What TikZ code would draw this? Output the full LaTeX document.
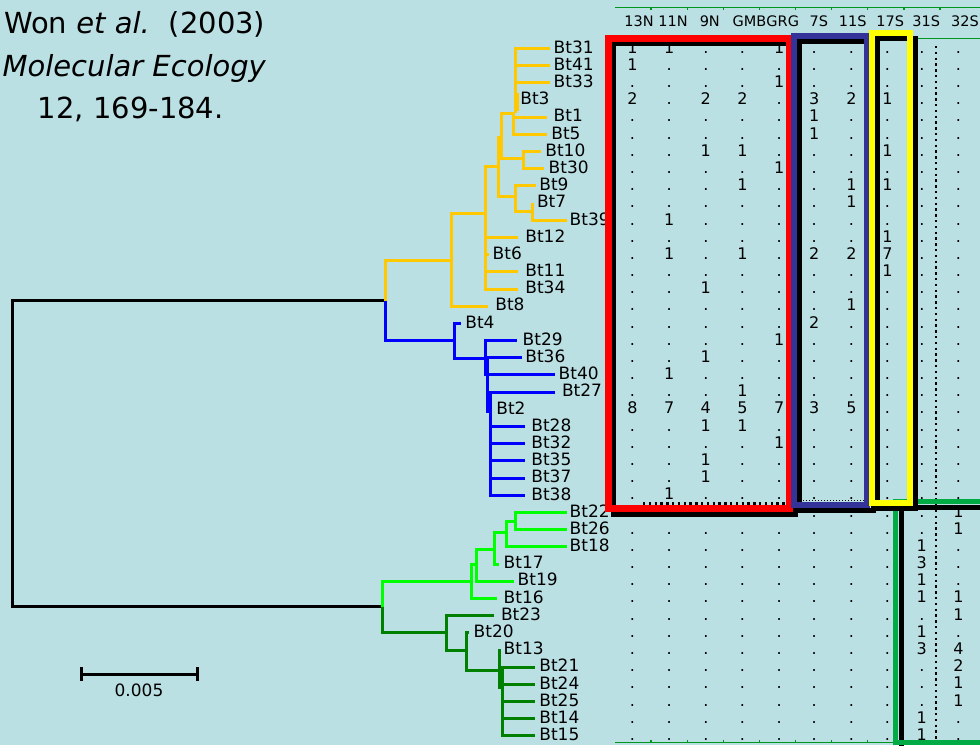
\documentclass[tikz,border=0pt]{standalone}
\usepackage{fontspec}
\setmainfont{DejaVu Sans}
\definecolor{bg}{RGB}{187,224,228}
\definecolor{ycl}{RGB}{255,200,0}
\definecolor{bcl}{RGB}{0,0,255}
\definecolor{lgcl}{RGB}{0,255,0}
\definecolor{dgcl}{RGB}{0,128,0}
\definecolor{frred}{RGB}{255,0,0}
\definecolor{frblue}{RGB}{51,51,153}
\definecolor{fryel}{RGB}{255,255,0}
\definecolor{frgreen}{RGB}{0,170,68}
\definecolor{thgreen}{RGB}{0,150,30}
\begin{document}
\begin{tikzpicture}[x=1pt,y=-1pt,
  br/.style={line width=3pt, line join=miter},
  lab/.style={anchor=base west, inner sep=0pt, font=\fontsize{17}{17}\selectfont},
  cell/.style={anchor=base, inner sep=0pt, font=\fontsize{16}{16}\selectfont},
  hdr/.style={anchor=base, inner sep=0pt, font=\fontsize{14.5}{14.5}\selectfont},
  cit/.style={inner sep=0pt, font=\fontsize{29}{29}\selectfont},
  dotline/.style={line width=2.4pt, dash pattern=on 2.4pt off 3.4pt},
  blackfr/.style={line width=5pt, black},
  thin/.style={line width=1.2pt, thgreen}
]
\fill[bg] (0,0) rectangle (980,745);
\useasboundingbox (0,0) rectangle (980,745);

% ---------- root ----------
\draw[br, black] (385.7,300.7) -- (12.7,300.7) -- (12.7,606.7) -- (382.7,606.7);

% ---------- yellow clade ----------
\draw[br, ycl] (385,300.7) -- (385,260) -- (451.7,260);
\draw[br, ycl] (485,213.3) -- (451.7,213.3) -- (451.7,306.2) -- (488.3,306.2);
\draw[br, ycl] (498,166.7) -- (485,166.7) -- (485,289) -- (518.3,289);
\draw[br, ycl] (485,237.4) -- (518.3,237.4);
\draw[br, ycl] (485,254.6) -- (488.5,254.6);
\draw[br, ycl] (485,271.8) -- (518.3,271.8);
\draw[br, ycl] (501.7,137) -- (498,137) -- (498,196.7) -- (515,196.7);
\draw[br, ycl] (523.3,158.3) -- (501.7,158.3) -- (501.7,113) -- (515,113);
\draw[br, ycl] (541,151.4) -- (523.3,151.4) -- (523.3,168.6) -- (544,168.6);
\draw[br, ycl] (535.7,185.8) -- (515,185.8) -- (515,211.7) -- (532.3,211.7);
\draw[br, ycl] (532.3,203) -- (532.3,220.2) -- (566.7,220.2);
\draw[br, ycl] (550,48.3) -- (515,48.3) -- (515,113);
\draw[br, ycl] (515,65.5) -- (550,65.5);
\draw[br, ycl] (515,82.7) -- (550,82.7);
\draw[br, ycl] (517.5,93) -- (517.5,111);
\draw[br, ycl] (513,113) -- (513,134.3) -- (547,134.3);
\draw[br, ycl] (513,117.1) -- (547,117.1);

% ---------- blue clade ----------
\draw[br, bcl] (385,300.7) -- (385,340.7) -- (454,340.7);
\draw[br, bcl] (460.7,323.3) -- (454,323.3) -- (454,358.3) -- (487.3,358.3);
\draw[br, bcl] (516.7,340.5) -- (485,340.5) -- (485,374.9) -- (555,374.9);
\draw[br, bcl] (521.7,357.7) -- (487.3,357.7) -- (487.3,411.7) -- (490,411.7);
\draw[br, bcl] (555,392.1) -- (490,392.1) -- (490,495.2) -- (525,495.2);
\foreach \i in {22,...,25} \draw[br, bcl] (490,{48.3+17.19*\i}) -- (525,{48.3+17.19*\i});

% ---------- light green clade ----------
\draw[br, lgcl] (382.7,606.7) -- (382.7,581) -- (471.7,581);
\draw[br, lgcl] (476.7,564) -- (471.7,564) -- (471.7,598.4) -- (496.7,598.4);
\draw[br, lgcl] (494,549) -- (476.7,549) -- (476.7,581.2) -- (514,581.2);
\draw[br, lgcl] (506.7,532.3) -- (494,532.3) -- (494,564) -- (499,564);
\draw[br, lgcl] (515,521) -- (506.7,521) -- (506.7,546.8) -- (566.7,546.8);
\draw[br, lgcl] (566.7,512.4) -- (515,512.4) -- (515,529.6) -- (566.7,529.6);

% ---------- dark green clade ----------
\draw[br, dgcl] (382.7,606.7) -- (382.7,632.3) -- (446,632.3);
\draw[br, dgcl] (494,615.6) -- (446,615.6) -- (446,650) -- (466,650);
\draw[br, dgcl] (469,632.8) -- (466,632.8) -- (466,670) -- (499.3,670);
\draw[br, dgcl] (499.3,649) -- (499.3,687.7) -- (502,687.7);
\draw[br, dgcl] (535,667.2) -- (502,667.2) -- (502,735.9) -- (535,735.9);
\foreach \i in {37,...,39} \draw[br, dgcl] (502,{48.3+17.19*\i}) -- (535,{48.3+17.19*\i});

% ---------- leaf labels ----------
\foreach \n/\lx/\i in {Bt31/555/0, Bt41/555/1, Bt33/555/2, Bt3/521.7/3, Bt1/555/4, Bt5/552.7/5,
  Bt10/546.7/6, Bt30/550/7, Bt9/540.7/8, Bt7/538.3/9, Bt39/571/10, Bt12/526.7/11, Bt6/494/12,
  Bt11/526.7/13, Bt34/526.7/14, Bt8/496.7/15, Bt4/466.7/16, Bt29/524/17, Bt36/526.7/18,
  Bt40/560/19, Bt27/563.3/20, Bt2/497.7/21, Bt28/532.7/22, Bt32/532.7/23, Bt35/532.7/24,
  Bt37/532.7/25, Bt38/532.7/26, Bt22/571/27, Bt26/571/28, Bt18/571/29, Bt17/505/30,
  Bt19/519/31, Bt16/505/32, Bt23/502.3/33, Bt20/475/34, Bt13/505/35, Bt21/540.7/36,
  Bt24/540.7/37, Bt25/540.7/38, Bt14/540.7/39, Bt15/540.7/40}
  \node[lab] (\n) at (\lx-1.5, {48.3+17.19*\i+4.8}) {\n};

% ---------- column headers ----------
\foreach \h/\hx in {13N/639, 11N/673, 9N/709.8, GMB/749.4, GRG/782.7, 7S/818.8, 11S/852.8, 17S/890.3, 31S/926.3, 32S/965}
  \node[hdr] (h\h) at (\hx,26.5) {\h};
\draw[thin] (615,7.3) -- (980,7.3);
\foreach \tx in {651,687.3,723.3,759.3,795.7,831.7,867.7,904,940} \draw[thin] (\tx,7.3) -- (\tx,10.3);
\draw[thin] (615,742.7) -- (893,742.7);
\foreach \tx in {651,687.3,723.3,759.3,795.7,831.7,867.7} \draw[thin] (\tx,742.7) -- (\tx,739.7);
\draw[thin] (918,38.3) -- (980,38.3);

% ---------- table data ----------
\def\colx{{631.7,668.3,705,741.7,778.3,813.3,850.7,886.7,921,957.7}}
\foreach \r [count=\i from 0] in {
 {1,1,.,.,1,.,.,.,.,.},{1,.,.,.,.,.,.,.,.,.},{.,.,.,.,1,.,.,.,.,.},{2,.,2,2,.,3,2,1,.,.},
 {.,.,.,.,.,1,.,.,.,.},{.,.,.,.,.,1,.,.,.,.},{.,.,1,1,.,.,.,1,.,.},{.,.,.,.,1,.,.,.,.,.},
 {.,.,.,1,.,.,1,1,.,.},{.,.,.,.,.,.,1,.,.,.},{.,1,.,.,.,.,.,.,.,.},{.,.,.,.,.,.,.,1,.,.},
 {.,1,.,1,.,2,2,7,.,.},{.,.,.,.,.,.,.,1,.,.},{.,.,1,.,.,.,.,.,.,.},{.,.,.,.,.,.,1,.,.,.},
 {.,.,.,.,.,2,.,.,.,.},{.,.,.,.,1,.,.,.,.,.},{.,.,1,.,.,.,.,.,.,.},{.,1,.,.,.,.,.,.,.,.},
 {.,.,.,1,.,.,.,.,.,.},{8,7,4,5,7,3,5,.,.,.},{.,.,1,1,.,.,.,.,.,.},{.,.,.,.,1,.,.,.,.,.},
 {.,.,1,.,.,.,.,.,.,.},{.,.,1,.,.,.,.,.,.,.},{.,1,.,.,.,.,.,.,.,.},{.,.,.,.,.,.,.,.,.,1},
 {.,.,.,.,.,.,.,.,.,1},{.,.,.,.,.,.,.,.,1,.},{.,.,.,.,.,.,.,.,3,.},{.,.,.,.,.,.,.,.,1,.},
 {.,.,.,.,.,.,.,.,1,1},{.,.,.,.,.,.,.,.,.,1},{.,.,.,.,.,.,.,.,1,.},{.,.,.,.,.,.,.,.,3,4},
 {.,.,.,.,.,.,.,.,.,2},{.,.,.,.,.,.,.,.,.,1},{.,.,.,.,.,.,.,.,.,1},{.,.,.,.,.,.,.,.,1,.},
 {.,.,.,.,.,.,.,.,1,.}}{
  \foreach \v [count=\j from 0] in \r {
    \pgfmathsetmacro\cx{\colx[\j]}
    \node[cell] (c\i-\j) at (\cx+0.8, {53.2+17.18*\i}) {\v};
  }
}

% ---------- dotted lines ----------
\draw[dotline] (936,46) -- (936,745);
\draw[dotline] (643,503.3) -- (787,503.3);
\draw[line width=0.9pt, dash pattern=on 1pt off 2pt] (803,500.5) -- (866,500.5);

% ---------- frames ----------
\draw[blackfr] (613.8,43.7) rectangle (795.3,514.2);
\draw[line width=6.7pt, frred] (608.3,38.3) rectangle (789.8,508.3);
\draw[blackfr] (799.2,41.2) rectangle (873,510.7);
\draw[line width=6pt, frblue] (793.7,35.5) rectangle (867.3,505);
\draw[blackfr] (901,507.5) rectangle (1000,760);
\draw[line width=5pt, frgreen] (895.2,501.7) rectangle (995,742.7);
\draw[blackfr] (877.5,38.8) rectangle (915.5,508.4);
\draw[line width=6pt, fryel] (872.2,33) rectangle (909.7,503);

% ---------- scale bar ----------
\coordinate (sbl) at (81.7,674);
\coordinate (sbr) at (197.3,674);
\draw[line width=3pt] (sbl) -- (sbr);
\draw[line width=2.6pt] ([yshift=-6.7pt]sbl) -- ([yshift=6.7pt]sbl);
\draw[line width=2.6pt] ([yshift=-6.7pt]sbr) -- ([yshift=6.7pt]sbr);
\node[anchor=base, inner sep=0pt, font=\fontsize{17}{17}\selectfont] (scl) at (139,696.7) {0.005};

% ---------- citation ----------
\node[cit, anchor=base east] (cit1) at (265.5,33.3) {Won \textit{et al.}\hspace{19pt}(2003)};
\node[cit, anchor=base] (cit2) at (134.2,76) {\itshape Molecular Ecology};
\node[cit, anchor=base] (cit3) at (130.8,118.3) {12, 169-184.};
\end{tikzpicture}
\end{document}
